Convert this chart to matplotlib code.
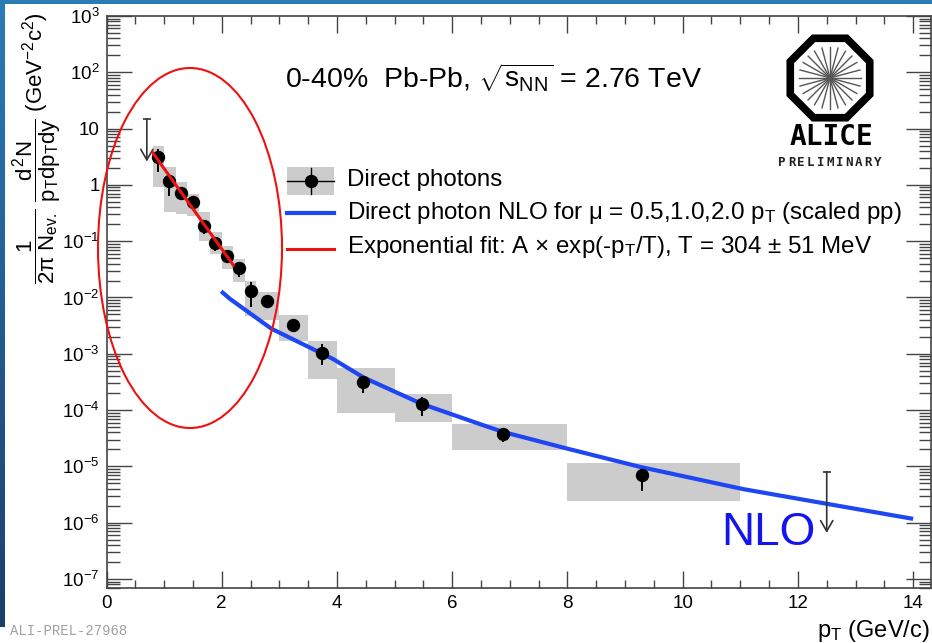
import numpy as np
import matplotlib
matplotlib.use("Agg")
import matplotlib.pyplot as plt
from matplotlib.patches import Rectangle, Ellipse, RegularPolygon
from matplotlib.lines import Line2D
from matplotlib.transforms import Affine2D
from matplotlib.ticker import LogLocator, MultipleLocator, FuncFormatter, NullFormatter

plt.rcParams["font.family"] = ["Liberation Sans", "DejaVu Sans"]
plt.rcParams["mathtext.fontset"] = "custom"
plt.rcParams["mathtext.rm"] = "Liberation Sans"
plt.rcParams["mathtext.it"] = "Liberation Sans"
plt.rcParams["mathtext.bf"] = "Liberation Sans:bold"
plt.rcParams["mathtext.sf"] = "Liberation Sans"

# ---- direct photon spectrum, 0-40% Pb-Pb ----
pt = [0.89, 1.08, 1.29, 1.50, 1.69, 1.89, 2.10, 2.30, 2.50, 2.79, 3.24, 3.745, 4.46, 5.47, 6.88, 9.29]
yld = [3.1, 1.19, 0.72, 0.505, 0.189, 0.092, 0.055, 0.033, 0.0129, 0.0085,
       0.0032, 0.00105, 3.2e-4, 1.27e-4, 3.8e-5, 6.9e-6]
stat_hi = [4.4, 1.39, 0.85, 0.56, 0.23, 0.11, 0.065, 0.039, 0.0187, 0.0102,
           0.0042, 0.00151, 4.1e-4, 1.71e-4, 4.6e-5, 8.0e-6]
stat_lo = [1.7, 0.645, 0.53, 0.45, 0.134, 0.068, 0.042, 0.023, 0.0067, 0.0068,
           0.0024, 6.2e-4, 2.0e-4, 7.9e-5, 2.7e-5, 3.7e-6]
bin_lo = [0.8, 1.0, 1.2, 1.4, 1.6, 1.8, 2.0, 2.2, 2.4, 2.6, 3.0, 3.5, 4.0, 5.0, 6.0, 8.0]
bin_hi = [1.0, 1.2, 1.4, 1.6, 1.8, 2.0, 2.2, 2.4, 2.6, 3.0, 3.5, 4.0, 5.0, 6.0, 8.0, 11.0]
syst_lo = [0.92, 0.33, 0.30, 0.28, 0.102, 0.059, 0.032, 0.0186, 0.0047, 0.0040,
           0.0017, 3.6e-4, 8.7e-5, 6.2e-5, 1.95e-5, 2.4e-6]
syst_hi = [5.0, 2.07, 1.12, 0.69, 0.327, 0.144, 0.083, 0.048, 0.0198, 0.0124,
           0.0049, 0.0017, 5.5e-4, 1.9e-4, 5.7e-5, 1.16e-5]

# upper limits (value and arrow tip)
ul_pt = [0.7, 12.5]
ul_val = [14.9, 8.0e-6]
ul_tip = [2.6, 6.6e-7]

# NLO pQCD direct photons (scaled pp)
nlo_pt = [1.99, 2.14, 2.86, 3.93, 4.46, 5.47, 6.49, 6.88, 8.02, 9.26, 11.05, 12.53, 14.0]
nlo_val = [1.29e-2, 9.5e-3, 2.8e-3, 8.1e-4, 3.8e-4, 1.29e-4, 5.6e-5, 4.1e-5,
           2.04e-5, 9.8e-6, 3.95e-6, 2.14e-6, 1.17e-6]

# exponential fit A*exp(-pT/T)
fit_A = 52.3
fit_T = 0.304
fit_range = [0.8, 2.2]

W, H = 932, 643
fig = plt.figure(figsize=(W / 100, H / 100), dpi=100)
fig.patch.set_facecolor("white")
# pixel transform (origin at top-left)
T = Affine2D().scale(1, -1).translate(0, H)

ax_l, ax_r, ax_t, ax_b = 106.5, 931.0, 16.0, 588.0
ax = fig.add_axes([ax_l / W, 1 - ax_b / H, (ax_r - ax_l) / W, (ax_b - ax_t) / H])
ax.set_yscale("log")
ax.set_xlim(0, 14.31)
ax.set_ylim(10 ** -7.16, 1e3)

gray = "#cccccc"
yl = np.array(yld)
ax.bar(bin_lo, np.array(syst_hi) - np.array(syst_lo), bottom=syst_lo,
       width=np.array(bin_hi) - np.array(bin_lo), align="edge",
       color=gray, lw=0, zorder=1)

ax.plot(nlo_pt, nlo_val, color="#1e46f2", lw=3.0, zorder=2, solid_capstyle="butt",
        solid_joinstyle="round")

xf = np.linspace(fit_range[0], fit_range[1], 60)
ax.plot(xf, fit_A * np.exp(-xf / fit_T), color="#ee1111", lw=2.2, zorder=4)

ax.errorbar(pt, yld, yerr=[yl - np.array(stat_lo), np.array(stat_hi) - yl],
            fmt="o", color="black", ms=8.6, elinewidth=1.4, capsize=0, zorder=3)

for x, v, tip in zip(ul_pt, ul_val, ul_tip):
    ax.annotate("", xy=(x, tip), xytext=(x, v),
                arrowprops=dict(arrowstyle="->,head_length=0.38,head_width=0.22",
                                mutation_scale=20, lw=1.2, color="#333333",
                                shrinkA=0, shrinkB=0), zorder=3)
    ax.plot([x], [v], marker="_", ms=6, mew=1.2, color="#333333", zorder=3)

# axes styling
for s in ax.spines.values():
    s.set_color("#444444")
    s.set_linewidth(1.2)
ax.xaxis.set_major_locator(MultipleLocator(2))
ax.xaxis.set_minor_locator(MultipleLocator(0.5))
ax.yaxis.set_major_locator(LogLocator(base=10, numticks=20))
ax.yaxis.set_minor_locator(LogLocator(base=10, subs=np.arange(2, 10), numticks=20))
ax.yaxis.set_minor_formatter(NullFormatter())


def log_label(v, pos):
    e = int(round(np.log10(v)))
    if e == 0:
        return "1"
    if e == 1:
        return "10"
    return "$10^{%d}$" % e


ax.yaxis.set_major_formatter(FuncFormatter(log_label))
ax.tick_params(which="both", direction="in", top=True, right=True,
               color="#444444", width=1.0, labelsize=13.5, labelcolor="black")
ax.tick_params(axis="x", which="major", length=12, pad=5)
ax.tick_params(axis="x", which="minor", length=6)
ax.tick_params(axis="y", which="major", length=18, pad=5)
ax.tick_params(axis="y", which="minor", length=9)

# axis titles
fig.text(930, 637, r"p$_{\mathrm{T}}$ (GeV/c)", transform=T, ha="right", va="baseline", fontsize=17)
fig.text(37, 148,
         r"$\dfrac{1}{2\pi\ N_{\mathrm{ev.}}}\ \dfrac{d^{2}N}{p_{\mathrm{T}}dp_{\mathrm{T}}dy}$ (GeV$^{-2}$c$^{2}$)",
         transform=T, ha="center", va="center", rotation=90, fontsize=16)

# system label
fig.text(285, 88, r"0-40%  Pb-Pb, $\sqrt{\mathrm{s}_{\mathrm{NN}}}$ = 2.76 TeV",
         transform=T, ha="left", va="baseline", fontsize=20.5)

# legend
fig.add_artist(Rectangle((287, 167), 47, 28, transform=T, color=gray, lw=0))
fig.add_artist(Line2D([287, 334], [181, 181], transform=T, color="black", lw=1.0))
fig.add_artist(Line2D([310.5, 310.5], [168, 194], transform=T, color="black", lw=1.0))
fig.add_artist(Line2D([310.5], [181], transform=T, color="black", marker="o", ms=8.6, lw=0))
fig.add_artist(Line2D([287, 334], [213, 213], transform=T, color="#1e46f2", lw=3.0))
fig.add_artist(Line2D([287, 334], [249, 249], transform=T, color="#ee1111", lw=2.2))
leg_fs = 17.4
fig.text(347, 180, "Direct photons", transform=T, va="center", fontsize=leg_fs)
fig.text(347, 213, r"Direct photon NLO for $\mu$ = 0.5,1.0,2.0 p$_{\mathrm{T}}$ (scaled pp)",
         transform=T, va="center", fontsize=leg_fs)
fig.text(347, 247, r"Exponential fit: A $\times$ exp(-p$_{\mathrm{T}}$/T), T = 304 $\pm$ 51 MeV",
         transform=T, va="center", fontsize=leg_fs)

# NLO tag
fig.text(721, 545, "NLO", transform=T, ha="left", va="baseline", fontsize=33, color="#1414ee")

# highlighted low-pT region
fig.add_artist(Ellipse((190, 248), 184, 360, transform=T, fill=False, edgecolor="#ee1111", lw=1.5))

# ALICE logo
cx, cy = 830, 78
fig.add_artist(RegularPolygon((cx, cy), numVertices=8, radius=43, orientation=np.pi / 8,
                              transform=T, fill=False, edgecolor="black", lw=5.5))
for k in range(24):
    a = k * np.pi / 12
    fig.add_artist(Line2D([cx, cx + 31 * np.cos(a)], [cy, cy + 31 * np.sin(a)],
                          transform=T, color="#555555", lw=1.0))
fig.text(cx + 1, 137, "ALICE", transform=T, ha="center", va="center",
         fontsize=20, family="DejaVu Sans Mono", weight="bold")
for i, ch in enumerate("PRELIMINARY"):
    fig.text(782 + i * 9.6, 163, ch, transform=T, ha="center", va="center",
             fontsize=9, family="DejaVu Sans Mono", weight="bold", color="#222222")

# slide frame
fig.add_artist(Rectangle((0, 0), W, 4, transform=T, color="#2b7bb7", lw=0))
grad = fig.add_axes([0, 1 - 627 / H, 5 / W, 627 / H])
grad.imshow(np.linspace(0, 1, 256)[:, None], aspect="auto",
            cmap=matplotlib.colors.LinearSegmentedColormap.from_list("f", ["#2b7bb7", "#1c3e6e"]))
grad.axis("off")

fig.text(10, 635, "ALI-PREL-27968", transform=T, ha="left", va="baseline",
         fontsize=10, family="Liberation Mono", color="#a0a0a0")

fig.savefig("out.png", dpi=100)
